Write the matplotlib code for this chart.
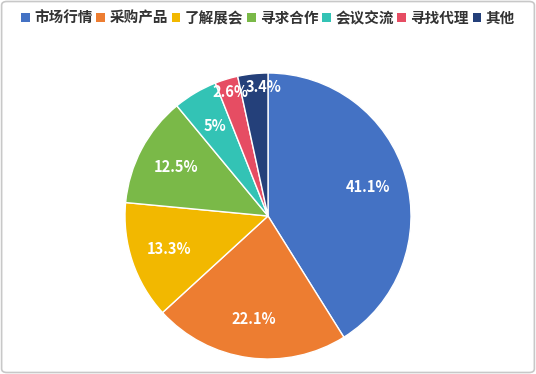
import numpy as np
import matplotlib.pyplot as plt
from matplotlib.patches import FancyBboxPatch, Patch

plt.rcParams['font.family'] = ['Noto Sans CJK SC', 'DejaVu Sans']

labels = ['市场行情', '采购产品', '了解展会', '寻求合作', '会议交流', '寻找代理', '其他']
values = [41.1, 22.1, 13.3, 12.5, 5, 2.6, 3.4]
pct_text = ['41.1%', '22.1%', '13.3%', '12.5%', '5%', '2.6%', '3.4%']
colors = ['#4472C4', '#ED7D31', '#F2B800', '#7AB948', '#33C3B5', '#E64D63', '#24407A']

fig = plt.figure(figsize=(5.36, 3.74), dpi=100)

# pie area: centre (268, 216) px, radius 143 px
r = 143
ax = fig.add_axes([(268 - r) / 536, (374 - 216 - r) / 374, 2 * r / 536, 2 * r / 374])
wedges, _ = ax.pie(values, colors=colors, startangle=90, counterclock=False,
                   wedgeprops=dict(edgecolor='white', linewidth=1))
ax.set_xlim(-1, 1)
ax.set_ylim(-1, 1)
ax.set_aspect('equal')

# percentage labels, small slices pushed outwards (last one nudged right so they don't collide)
for i, (w, v, t) in enumerate(zip(wedges, values, pct_text)):
    ang = np.deg2rad((w.theta1 + w.theta2) / 2)
    d = 0.91 if v < 4 else 0.73
    dx = 7 if i == len(values) - 1 else 0
    ax.annotate(t, (d * np.cos(ang), d * np.sin(ang)), xytext=(dx, 0),
                textcoords='offset points', ha='center', va='center',
                color='white', fontsize=10.5, fontweight='bold')

handles = [Patch(facecolor=c, edgecolor='none') for c in colors]
fig.legend(handles, labels, loc='center', bbox_to_anchor=(0.5, 1 - 18 / 374), ncol=7,
           frameon=False, handlelength=0.6, handleheight=0.6, handletextpad=0.3,
           columnspacing=0.25, borderaxespad=0,
           prop={'size': 10.5, 'weight': 'bold'}, labelcolor='#333333')

# light grey frame around the image
fig.patches.append(FancyBboxPatch((0.003, 0.004), 0.994, 0.992,
                                  boxstyle='round,pad=0,rounding_size=0.01',
                                  transform=fig.transFigure, facecolor='none',
                                  edgecolor='#C8C8C8', linewidth=1.2))

fig.savefig('out.png', dpi=100)
